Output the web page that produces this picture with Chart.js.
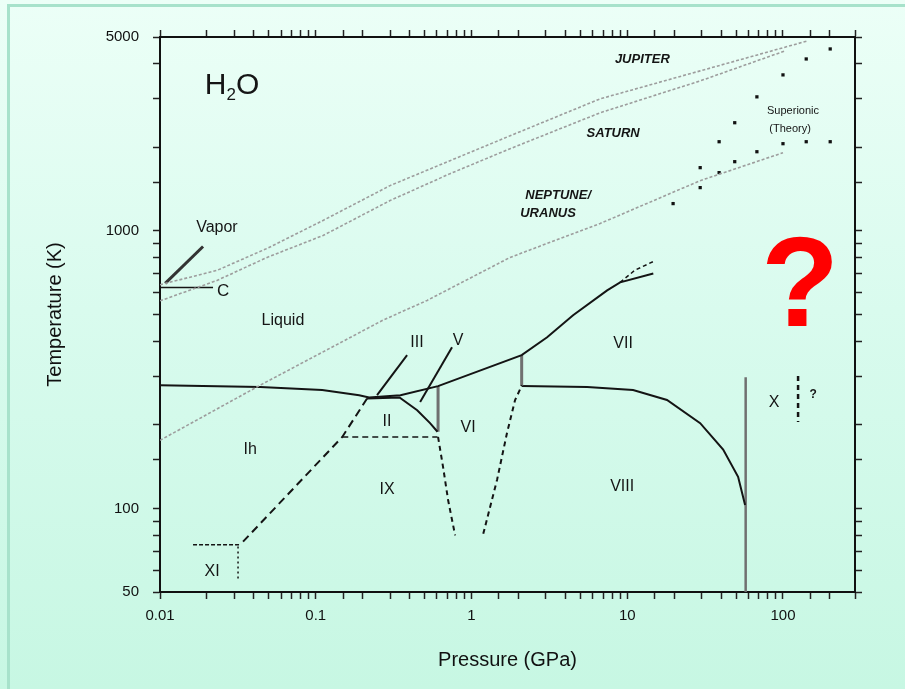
<!DOCTYPE html>
<html>
<head>
<meta charset="utf-8">
<script src="https://cdn.jsdelivr.net/npm/chart.js@4"></script>
<style>
  html, body { margin: 0; padding: 0; }
  body {
    width: 905px; height: 689px; overflow: hidden; position: relative;
    background: linear-gradient(to bottom, #ecfff7 0%, #d9fbee 45%, #c7f7e3 100%);
  }
  .frame {
    position: absolute; left: 7px; top: 4px; right: -10px; bottom: -10px;
    border-left: 3px solid #a7e2cb; border-top: 3px solid #a7e2cb;
  }
  #wrap { position: absolute; left: 0; top: 0; width: 905px; height: 689px; }
</style>
</head>
<body>
<div class="frame"></div>
<div id="wrap"><canvas id="phaseChart"></canvas></div>
<script>
// axis ticks that carry labels
const xTickLabels = [0.01, 0.1, 1, 10, 100];
const yTickLabels = [50, 100, 1000, 5000];

// phase boundaries, [pressure GPa, temperature K]
const melting = [[0.01, 278], [0.044, 274], [0.11, 267], [0.19, 256], [0.22, 251], [0.35, 256],
  [0.61, 276], [2.1, 357], [3.06, 414], [4.49, 497], [7.43, 611], [9.0, 653], [14.7, 703]];
const meltingHigh = [[9.0, 653], [11.2, 722], [14.7, 776]];
const iceIIBoundary = [[0.2135, 249], [0.345, 251], [0.448, 226], [0.542, 203], [0.605, 189]];
const ihBoundary = [[0.2135, 249], [0.148, 181], [0.0327, 74]];
const xiBoundary = [[0.0163, 74], [0.0327, 74]];
const xiVertical = [[0.0317, 73], [0.0317, 55]];
const iiIxBoundary = [[0.148, 181], [0.605, 181]];
const vVi = [[0.61, 276], [0.61, 189]];
const viIx = [[0.61, 181], [0.657, 141], [0.708, 107], [0.785, 80]];
const viViii = [[1.19, 81], [1.46, 127], [1.69, 187], [1.905, 246], [2.11, 278]];
const viVii = [[2.1, 357], [2.1, 276]];
const viiViii = [[2.1, 276], [5.53, 274], [10.9, 267], [18.0, 246], [29.4, 203], [41.3, 163], [51.5, 130], [57.1, 103]];
const iceX = [[57.6, 297], [57.6, 50]];
const iceXQuery = [[125, 300], [125, 205]];

// planetary isentropes
const jupiter = [[0.01, 640], [0.0232, 721], [0.0487, 865], [0.1114, 1091], [0.3, 1457], [0.729, 1792],
  [1.77, 2203], [6.7, 2993], [29.4, 3775], [143, 4837]];
const saturn = [[0.01, 560], [0.0232, 663], [0.0487, 803], [0.1114, 963], [0.3, 1287], [0.729, 1609],
  [1.77, 1979], [6.7, 2666], [29.4, 3474], [103, 4454]];
const neptune = [[0.01, 176], [0.0439, 278], [0.27, 477], [0.519, 562], [1.77, 803], [6.7, 1064],
  [29.4, 1518], [100, 1914]];

// superionic (theory) points
const superionic = [[201, 4528], [141, 4167], [100, 3651], [68, 3043], [49, 2455], [38.9, 2097],
  [29.4, 1691], [29.4, 1433], [19.7, 1255], [38.9, 1623], [49, 1777], [68, 1930], [100, 2063],
  [141, 2097], [201, 2097]];

// leader lines
const vaporPointer = [[0.0108, 647], [0.0189, 879]];
const cPointer = [[0.01, 626], [0.0219, 626]];
const iiiPointer = [[0.386, 357], [0.2475, 256]];
const vPointer = [[0.75, 381], [0.468, 242]];

// region labels
const labelText = ['Vapor', 'C', 'Liquid', 'III', 'V', 'II', 'VI', 'Ih', 'IX', 'XI', 'VII', 'VIII', 'X', '?',
  'JUPITER', 'SATURN', 'NEPTUNE/', 'URANUS', 'Superionic', '(Theory)'];
const labelP = [0.0232, 0.0254, 0.0616, 0.447, 0.82, 0.287, 0.951, 0.0379, 0.287, 0.0216, 9.41, 9.28, 87.8, 156,
  12.5, 8.12, 3.6, 3.1, 116, 111];
const labelT = [1029, 606, 477, 397, 404, 205, 195, 163, 117, 59, 394, 120, 240, 256,
  4168, 2240, 1341, 1156, 2710, 2335];
const formulaAt = [0.029, 3334];
const questionAt = [129, 610];

const fontFamily = '"Liberation Sans", Arial, Helvetica, sans-serif';

const pts = (arr) => arr.map(([p, t]) => ({ x: p, y: t }));

function line(arr, color, width, dash) {
  return {
    data: pts(arr), showLine: true, borderColor: color, borderWidth: width,
    borderDash: dash || [], pointRadius: 0, fill: false, tension: 0
  };
}

function labelFor(v, list) {
  const hit = list.find((t) => Math.abs(v - t) / t < 1e-6);
  return hit === undefined ? '' : String(hit);
}

function axis(kind, pos, size) {
  const isX = kind === 'x';
  return {
    type: 'logarithmic',
    position: pos,
    min: isX ? 0.01 : 50,
    max: isX ? 290 : 5000,
    border: { display: true, color: '#111', width: 2 },
    grid: { drawOnChartArea: false, drawTicks: true, tickLength: 7, tickColor: '#222', tickWidth: 1.5 },
    ticks: {
      autoSkip: false, maxRotation: 0, minRotation: 0,
      padding: isX ? 8 : 14,
      color: '#111',
      font: { family: fontFamily, size: 15 },
      callback: (v) => {
        if (pos === 'bottom') return labelFor(v, xTickLabels);
        if (pos === 'left') return labelFor(v, yTickLabels);
        return '';
      }
    },
    afterFit: (s) => { if (isX) s.height = size; else s.width = size; }
  };
}

const labelPlugin = {
  id: 'phaseLabels',
  afterDatasetsDraw(chart) {
    const ctx = chart.ctx;
    const sx = chart.scales.x, sy = chart.scales.y;
    ctx.save();
    ctx.textAlign = 'center';
    ctx.textBaseline = 'middle';
    ctx.fillStyle = '#151515';

    labelText.forEach((txt, i) => {
      const px = sx.getPixelForValue(labelP[i]);
      const py = sy.getPixelForValue(labelT[i]);
      let font = '16px ' + fontFamily;
      if (['JUPITER', 'SATURN', 'NEPTUNE/', 'URANUS'].includes(txt)) font = 'italic bold 13px ' + fontFamily;
      else if (txt === 'Superionic' || txt === '(Theory)') font = '11px ' + fontFamily;
      else if (txt === 'C') font = '17px ' + fontFamily;
      else if (txt === '?') font = 'bold 12px ' + fontFamily;
      ctx.font = font;
      ctx.fillText(txt, px, py);
    });

    // H2O with subscript
    const hx = sx.getPixelForValue(formulaAt[0]);
    const hy = sy.getPixelForValue(formulaAt[1]);
    ctx.textAlign = 'left';
    ctx.font = '30px ' + fontFamily;
    const wH = ctx.measureText('H').width;
    const wO = ctx.measureText('O').width;
    ctx.font = '17px ' + fontFamily;
    const w2 = ctx.measureText('2').width;
    let cx = hx - (wH + w2 + wO) / 2;
    ctx.font = '30px ' + fontFamily;
    ctx.fillText('H', cx, hy);
    cx += wH;
    ctx.font = '17px ' + fontFamily;
    ctx.fillText('2', cx, hy + 9);
    cx += w2;
    ctx.font = '30px ' + fontFamily;
    ctx.fillText('O', cx, hy);

    // big red question mark
    ctx.textAlign = 'center';
    ctx.fillStyle = '#ff0000';
    ctx.font = 'bold 128px ' + fontFamily;
    ctx.fillText('?', sx.getPixelForValue(questionAt[0]), sy.getPixelForValue(questionAt[1]));
    ctx.restore();
  }
};

const black = '#141414';
const grey = '#707070';
const planet = '#9d9d9d';

new Chart(document.getElementById('phaseChart'), {
  type: 'scatter',
  data: {
    datasets: [
      line(jupiter, planet, 1.6, [3, 2]),
      line(saturn, planet, 1.6, [3, 2]),
      line(neptune, planet, 1.6, [3, 2]),
      line(melting, black, 2),
      line(meltingHigh, black, 1.5, [4, 3]),
      line(iceIIBoundary, black, 2),
      line(ihBoundary, black, 2, [8, 5]),
      line(xiBoundary, black, 1.3, [4, 2]),
      line(xiVertical, black, 1.5, [2, 3]),
      line(iiIxBoundary, black, 1.5, [6, 4]),
      line(vVi, grey, 3),
      line(viIx, black, 2, [5, 4]),
      line(viViii, black, 2, [5, 4]),
      line(viVii, grey, 3),
      line(viiViii, black, 2),
      line(iceX, grey, 2.5),
      line(iceXQuery, black, 2.5, [5, 4]),
      line(vaporPointer, '#333', 3),
      line(cPointer, black, 1.5),
      line(iiiPointer, black, 2),
      line(vPointer, black, 2),
      {
        data: pts(superionic), showLine: false, pointStyle: 'rect',
        pointRadius: 2.3, backgroundColor: '#111', borderColor: '#111', borderWidth: 0
      }
    ]
  },
  options: {
    responsive: true,
    maintainAspectRatio: false,
    animation: false,
    layout: { padding: 0 },
    plugins: { legend: { display: false }, tooltip: { enabled: false } },
    scales: {
      x: Object.assign(axis('x', 'bottom', 97), {
        title: { display: true, text: 'Pressure (GPa)', color: '#111',
          font: { family: fontFamily, size: 20 }, padding: { top: 0, bottom: 17 } }
      }),
      x2: axis('x', 'top', 37),
      y: Object.assign(axis('y', 'left', 160), {
        title: { display: true, text: 'Temperature (K)', color: '#111',
          font: { family: fontFamily, size: 20 }, padding: { top: 43, bottom: 0 } }
      }),
      y2: axis('y', 'right', 50)
    }
  },
  plugins: [labelPlugin]
});
</script>
</body>
</html>
